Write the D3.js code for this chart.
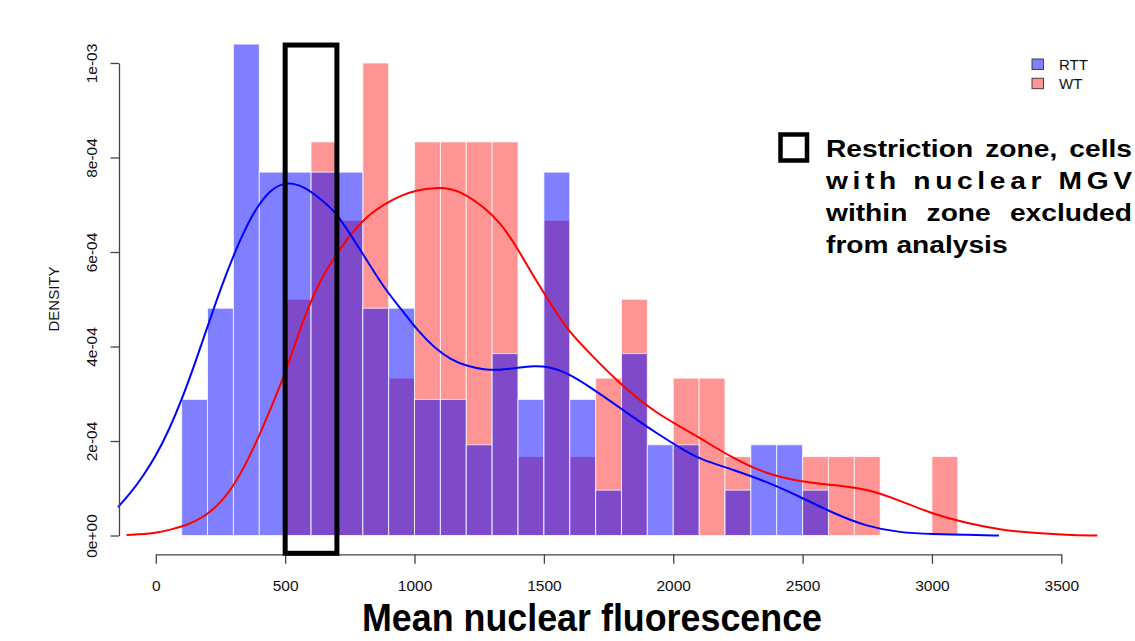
<!DOCTYPE html>
<html>
<head>
<meta charset="utf-8">
<script src="https://cdn.jsdelivr.net/npm/d3@7"></script>
<style>
  html, body { margin: 0; padding: 0; background: #ffffff; }
  svg { display: block; }
</style>
</head>
<body>
<svg id="chart" width="1135" height="641"></svg>
<script>
// ---------------- DATA ----------------
const binStarts = [100,200,300,400,500,600,700,800,900,1000,1100,1200,1300,1400,1500,
                   1600,1700,1800,1900,2000,2100,2200,2300,2400,2500,2600,2700,2800,2900,3000];
const binWidth = 100;
const rttDensity = [2.88e-4,4.81e-4,10.4e-4,7.69e-4,7.69e-4,7.69e-4,7.69e-4,4.81e-4,4.81e-4,2.88e-4,
                    2.88e-4,1.92e-4,3.85e-4,2.88e-4,7.69e-4,2.88e-4,0.96e-4,3.85e-4,1.92e-4,1.92e-4,
                    0,0.96e-4,1.92e-4,1.92e-4,0.96e-4,0,0,0,0,0];
const wtDensity  = [0,0,0,0,5.0e-4,8.33e-4,6.67e-4,10.0e-4,3.33e-4,8.33e-4,
                    8.33e-4,8.33e-4,8.33e-4,1.67e-4,6.67e-4,1.67e-4,3.33e-4,5.0e-4,0,3.33e-4,
                    3.33e-4,1.67e-4,0,0,1.67e-4,1.67e-4,1.67e-4,0,0,1.67e-4];

const rttCurveX = [-146,-100,-50,0,50,100,150,200,250,309,370,437,490,530,580,630,694,757,822,885,950,
                   1013,1077,1140,1205,1269,1330,1400,1460,1520,1588,1677,1805,1933,2061,2104,2232,2361,
                   2490,2619,2748,2876,3006,3130,3259];
const rttCurveY = [0.60,0.88,1.25,1.68,2.22,2.87,3.62,4.42,5.22,6.05,6.78,7.30,7.45,7.46,7.36,7.15,6.86,6.33,5.77,5.22,4.78,
                   4.33,3.97,3.72,3.58,3.51,3.50,3.55,3.59,3.57,3.45,3.15,2.66,2.17,1.74,1.62,1.39,1.14,
                   0.82,0.47,0.19,0.06,0.03,0.015,0.0].map(v => v * 1e-4);
const wtCurveX = [-113,0,54,120,181,250,309,375,437,501,565,629,693,757,820,885,948,1012,1076,1140,1204,
                  1268,1332,1396,1460,1549,1588,1677,1805,1933,2061,2104,2232,2361,2490,2619,2748,2876,
                  3006,3134,3263,3392,3520,3639];
const wtCurveY = [0.01,0.05,0.12,0.22,0.37,0.68,1.11,1.80,2.59,3.44,4.50,5.35,5.91,6.41,6.78,7.02,7.20,7.31,7.36,7.35,7.20,
                  6.95,6.62,6.10,5.48,4.71,4.38,3.85,3.15,2.59,2.20,2.06,1.63,1.30,1.14,1.07,0.99,0.74,
                  0.45,0.26,0.12,0.05,0.015,0.0].map(v => v * 1e-4);

const xTicks = [0,500,1000,1500,2000,2500,3000,3500];
const yTicks = [0,2e-4,4e-4,6e-4,8e-4,1e-3];
const yTickLabels = ["0e+00","2e-04","4e-04","6e-04","8e-04","1e-03"];
const seriesNames = ["RTT","WT"];
const restrictionZone = [500, 700];
const restrictionTop = 1.038e-3;
const xTitle = "Mean nuclear fluorescence";
const yTitle = "DENSITY";
const noteLines = ["Restriction zone, cells", "with nuclear MGV", "within zone excluded", "from analysis"];

// ---------------- CHART ----------------
const svg = d3.select("#chart");
svg.append("rect").attr("width",1135).attr("height",641).attr("fill","#ffffff");

const x = d3.scaleLinear().domain([0, 3500]).range([155.8, 1061.3]);
const y = d3.scaleLinear().domain([0, 1e-3]).range([535.5, 63]);

const blueFill = "rgba(0,0,255,0.5)";
const redFill = "rgba(255,0,0,0.42)";

function drawBars(values, fill) {
  const data = binStarts.map((b, i) => ({b, v: values[i]})).filter(d => d.v > 0);
  svg.append("g").selectAll("rect").data(data).join("rect")
    .attr("x", d => x(d.b))
    .attr("width", d => x(d.b + binWidth) - x(d.b))
    .attr("y", d => y(d.v))
    .attr("height", d => y(0) - y(d.v))
    .attr("fill", fill)
    .attr("stroke", "rgba(255,255,255,0.75)")
    .attr("stroke-width", 1);
}
drawBars(wtDensity, redFill);
drawBars(rttDensity, blueFill);

// density curves
const line = d3.line().x(d => x(d[0])).y(d => y(d[1])).curve(d3.curveBasis);
svg.append("path").datum(wtCurveX.map((v,i)=>[v, wtCurveY[i]]))
  .attr("d", line).attr("fill","none").attr("stroke","#ff0000").attr("stroke-width",2);
svg.append("path").datum(rttCurveX.map((v,i)=>[v, rttCurveY[i]]))
  .attr("d", line).attr("fill","none").attr("stroke","#0000ff").attr("stroke-width",2);

// axes
const axisColor = "#444";
const xAxis = svg.append("g").attr("transform","translate(0,554.3)")
  .call(d3.axisBottom(x).tickValues(xTicks).tickSize(9.5).tickSizeOuter(0).tickFormat(d3.format("d")));
xAxis.select(".domain").attr("stroke", axisColor).attr("stroke-width",1.3);
xAxis.selectAll(".tick line").attr("stroke", axisColor).attr("stroke-width",1.3);
xAxis.selectAll(".tick text").attr("y", 36.5).attr("dy", 0)
  .attr("font-family","'Liberation Sans', Arial, sans-serif").attr("font-size",15.5).attr("fill","#111");

const yAxis = svg.append("g").attr("transform","translate(119,0)")
  .call(d3.axisLeft(y).tickValues(yTicks).tickSize(8.5).tickSizeOuter(0).tickFormat((d,i)=>yTickLabels[i]));
yAxis.select(".domain").attr("stroke", axisColor).attr("stroke-width",1.3);
yAxis.selectAll(".tick line").attr("stroke", axisColor).attr("stroke-width",1.3);
yAxis.selectAll(".tick text")
  .attr("transform","rotate(-90)").attr("x",0).attr("y",-22.5).attr("dy",0)
  .attr("text-anchor","middle")
  .attr("font-family","'Liberation Sans', Arial, sans-serif").attr("font-size",15.5).attr("fill","#111");

// axis titles
svg.append("text").attr("x", 592).attr("y", 631).attr("text-anchor","middle")
  .attr("font-family","'Liberation Sans Narrow', 'Liberation Sans', Arial, sans-serif")
  .attr("font-weight","bold").attr("font-size",39)
  .attr("textLength",460).attr("lengthAdjust","spacingAndGlyphs")
  .attr("fill","#000").text(xTitle);
svg.append("text").attr("transform","translate(58.5,299) rotate(-90)").attr("text-anchor","middle")
  .attr("font-family","'Liberation Sans', Arial, sans-serif").attr("font-size",15).attr("fill","#111")
  .text(yTitle);

// restriction zone box
svg.append("rect")
  .attr("x", x(restrictionZone[0])).attr("y", y(restrictionTop))
  .attr("width", x(restrictionZone[1]) - x(restrictionZone[0]))
  .attr("height", 553.3 - y(restrictionTop))
  .attr("fill","none").attr("stroke","#000").attr("stroke-width",5);

// legend
const legendColors = ["#8080ff", "#ff9494"];
seriesNames.forEach((name, i) => {
  svg.append("rect").attr("x",1032).attr("y",59 + i*19.2).attr("width",11.5).attr("height",10.5)
    .attr("fill",legendColors[i]).attr("stroke","#333").attr("stroke-width",0.9);
  svg.append("text").attr("x",1059).attr("y",69.8 + i*19.2)
    .attr("font-family","'Liberation Sans', Arial, sans-serif").attr("font-size",15).attr("fill","#111")
    .text(name);
});

// annotation
svg.append("rect").attr("x",780.5).attr("y",134.5).attr("width",26.5).attr("height",26)
  .attr("fill","none").attr("stroke","#000").attr("stroke-width",4.5);

const noteX = 826, noteRight = 1132, stretch = 1.15;
const noteBaselines = [156.5, 189, 221, 252.5];
const targetLocal = (noteRight - noteX) / stretch;
const fontAttrs = sel => sel.attr("font-family","'Liberation Sans', Arial, sans-serif")
  .attr("font-weight","bold").attr("font-size",24.5).attr("fill","#000");
noteLines.forEach((txt, li) => {
  const g = svg.append("g").attr("transform",`translate(${noteX},${noteBaselines[li]}) scale(${stretch},1)`);
  if (li === 1) {
    g.append("text").call(fontAttrs).attr("x",0).attr("y",0)
      .attr("textLength", targetLocal).attr("lengthAdjust","spacing").text(txt);
  } else if (li === 3) {
    g.append("text").call(fontAttrs).attr("x",0).attr("y",0).text(txt);
  } else {
    const words = txt.split(" ");
    const nodes = words.map(w => g.append("text").call(fontAttrs).attr("y",0).text(w));
    const widths = nodes.map(n => n.node().getComputedTextLength());
    const gap = (targetLocal - d3.sum(widths)) / (words.length - 1);
    let cx = 0;
    nodes.forEach((n, i) => { n.attr("x", cx); cx += widths[i] + gap; });
  }
});
</script>
</body>
</html>
